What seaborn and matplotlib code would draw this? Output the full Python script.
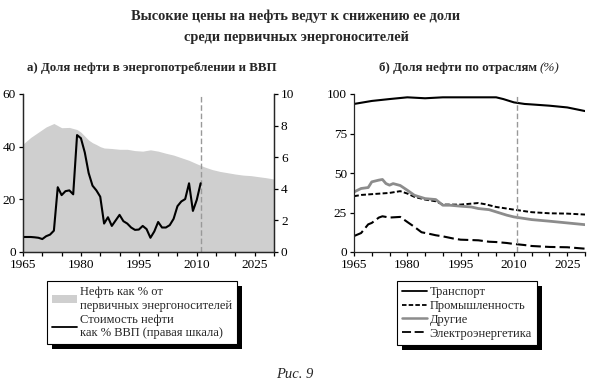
import numpy as np
import pandas as pd
import matplotlib
matplotlib.use("Agg")
import matplotlib.pyplot as plt
from matplotlib.patches import Patch, Rectangle
from matplotlib.lines import Line2D
from matplotlib.ticker import MultipleLocator
import seaborn as sns

# ---- data: panel a ----
share_years = [1965, 1967, 1969, 1971, 1973, 1974, 1975, 1977, 1979, 1980, 1981, 1982, 1983,
               1984, 1985, 1986, 1988, 1990, 1992, 1994, 1996, 1998, 2000, 2002, 2004, 2006,
               2008, 2010, 2012, 2014, 2016, 2018, 2020, 2022, 2024, 2026, 2028, 2030]
oil_share = [41.0, 43.5, 45.5, 47.5, 48.8, 48.0, 47.2, 47.3, 46.5, 45.5, 44.0, 42.5, 41.5,
             40.8, 40.0, 39.5, 39.3, 39.0, 39.0, 38.5, 38.3, 38.8, 38.3, 37.5, 36.8, 35.8,
             34.8, 33.5, 32.3, 31.3, 30.6, 30.1, 29.6, 29.2, 29.0, 28.6, 28.2, 27.7]

cost_years = list(range(1965, 2012))
oil_cost_gdp = [0.95, 0.95, 0.95, 0.93, 0.90, 0.82, 1.00, 1.10, 1.35, 4.10,
                3.60, 3.85, 3.90, 3.65, 7.40, 7.20, 6.30, 5.00, 4.20, 3.90,
                3.50, 1.80, 2.20, 1.65, 2.00, 2.35, 1.95, 1.80, 1.55, 1.40,
                1.42, 1.65, 1.45, 0.90, 1.30, 1.90, 1.55, 1.55, 1.70, 2.10,
                2.90, 3.20, 3.35, 4.35, 2.60, 3.30, 4.35]

# ---- data: panel b ----
trans_years = [1965, 1970, 1975, 1980, 1985, 1990, 1995, 2000, 2005, 2007, 2010, 2013, 2015, 2020, 2025, 2030]
transport = [93.7, 95.6, 96.8, 97.9, 97.3, 97.9, 97.9, 97.9, 97.9, 96.8, 94.7, 93.7, 93.4, 92.6, 91.5, 89.2]

ind_years = [1965, 1967, 1970, 1975, 1978, 1980, 1982, 1985, 1988, 1990, 1995, 2000, 2002,
             2005, 2008, 2010, 2015, 2020, 2025, 2030]
industry = [35.3, 36.1, 36.6, 37.4, 38.5, 37.0, 34.9, 33.2, 32.1, 30.0, 30.0, 31.0, 30.2,
            28.5, 27.5, 26.8, 25.2, 24.5, 24.3, 23.7]

oth_years = [1965, 1967, 1969, 1970, 1972, 1973, 1974, 1975, 1976, 1978, 1980, 1982, 1985,
             1988, 1990, 1992, 1995, 1998, 2000, 2003, 2005, 2008, 2010, 2015, 2020, 2025, 2030]
others = [38.0, 40.2, 40.8, 44.4, 45.5, 45.9, 43.3, 42.3, 43.3, 42.1, 39.1, 35.9, 33.8,
          33.2, 29.6, 29.6, 29.0, 28.5, 27.5, 26.8, 25.4, 23.3, 22.2, 20.5, 19.5, 18.4, 17.3]

el_years = [1965, 1967, 1969, 1970, 1972, 1973, 1975, 1978, 1980, 1982, 1984, 1986, 1988,
            1990, 1993, 1995, 2000, 2003, 2005, 2008, 2010, 2013, 2015, 2020, 2025, 2030]
power = [10.1, 12.0, 17.5, 18.4, 21.8, 22.6, 21.8, 22.2, 19.0, 15.9, 12.5, 11.6, 10.6,
         9.9, 8.5, 7.8, 7.4, 6.5, 6.3, 5.7, 5.1, 4.4, 3.8, 3.2, 3.0, 2.1]

xticks = [1965, 1980, 1995, 2010, 2025]
forecast_year = 2011

sns.set_theme(style="ticks")
plt.rcParams['font.family'] = ['Liberation Serif', 'DejaVu Serif']
plt.rcParams['axes.linewidth'] = 0.9

fig = plt.figure(figsize=(5.9, 3.87), dpi=100)
W, H = 590, 387

def axrect(x0, y0, x1, y1):
    return [x0 / W, 1 - y1 / H, (x1 - x0) / W, (y1 - y0) / H]

def style_ticks(a):
    a.tick_params(axis='both', which='major', labelsize=9.5, length=3, width=0.9,
                  colors='black', pad=2)
    a.tick_params(axis='both', which='minor', length=3, width=0.9, colors='black')

# ---- panel a ----
ax = fig.add_axes(axrect(23, 94, 274, 252))
ax.fill_between(share_years, oil_share, 0, color="#cfcfcf", lw=0)
ax.set_xlim(1965, 2030)
ax.set_ylim(0, 60)
ax.set_yticks([0, 20, 40, 60])
ax.set_xticks(xticks)
ax.xaxis.set_minor_locator(MultipleLocator(5))
ax.axvline(forecast_year, color="#999999", lw=1, ls=(0, (4, 2)))
ax2 = ax.twinx()
sns.lineplot(x=cost_years, y=oil_cost_gdp, ax=ax2, color="black", lw=1.5)
ax2.set_ylim(0, 10)
ax2.set_yticks([0, 2, 4, 6, 8, 10])
ax2.set_xlim(1965, 2030)
for a in (ax, ax2):
    a.spines['top'].set_visible(False)
    a.set_xlabel("")
    a.set_ylabel("")
    style_ticks(a)
ax.spines['right'].set_visible(True)

# ---- panel b ----
bx = fig.add_axes(axrect(354, 94, 585, 252))
sns.lineplot(x=trans_years, y=transport, ax=bx, color="black", lw=1.5)
sns.lineplot(x=ind_years, y=industry, ax=bx, color="black", lw=1.4)
bx.lines[-1].set_linestyle((0, (2.5, 1.2)))
sns.lineplot(x=oth_years, y=others, ax=bx, color="#8c8c8c", lw=2.0)
sns.lineplot(x=el_years, y=power, ax=bx, color="black", lw=1.5)
bx.lines[-1].set_linestyle((0, (5, 2)))
bx.axvline(forecast_year, color="#999999", lw=1, ls=(0, (4, 2)))
bx.set_xlim(1965, 2030)
bx.set_ylim(0, 100)
bx.set_yticks([0, 25, 50, 75, 100])
bx.set_xticks(xticks)
bx.xaxis.set_minor_locator(MultipleLocator(5))
sns.despine(ax=bx)
bx.set_xlabel("")
bx.set_ylabel("")
style_ticks(bx)

# ---- titles ----
fig.text(296 / W, 1 - 16 / H, "Высокие цены на нефть ведут к снижению ее доли",
         ha='center', va='center', fontsize=10.4, fontweight='bold')
fig.text(296 / W, 1 - 37 / H, "среди первичных энергоносителей",
         ha='center', va='center', fontsize=10.4, fontweight='bold')
fig.text(27 / W, 1 - 68 / H, "а) Доля нефти в энергопотреблении и ВВП",
         ha='left', va='center', fontsize=9.3, fontweight='bold')
fig.text(537 / W, 1 - 68 / H, "б) Доля нефти по отраслям",
         ha='right', va='center', fontsize=9.3, fontweight='bold')
fig.text(540 / W, 1 - 68 / H, "(%)", ha='left', va='center', fontsize=9.5, style='italic')
fig.text(295 / W, 1 - 374 / H, "Рис. 9", ha='center', va='center', fontsize=10.5, style='italic')

# ---- legends ----
leg_kw = dict(loc='upper left', fontsize=9, frameon=True, fancybox=False,
              edgecolor='black', handlelength=2.0, handletextpad=0.2, borderpad=0.4,
              labelspacing=0.15, borderaxespad=0)
h1 = [Patch(facecolor="#cfcfcf", edgecolor='none'), Line2D([], [], color='black', lw=1.3)]
l1 = ["Нефть как % от\nпервичных энергоносителей", "Стоимость нефти\nкак % ВВП (правая шкала)"]
lg1 = fig.legend(h1, l1, bbox_to_anchor=(47 / W, 1 - 281 / H), **leg_kw)

h2 = [Line2D([], [], color='black', lw=1.3),
      Line2D([], [], color='black', lw=1.3, ls=(0, (2.5, 1.2))),
      Line2D([], [], color='#8c8c8c', lw=1.8),
      Line2D([], [], color='black', lw=1.3, ls=(0, (5, 2)))]
l2 = ["Транспорт", "Промышленность", "Другие", "Электроэнергетика"]
lg2 = fig.legend(h2, l2, bbox_to_anchor=(397 / W, 1 - 281 / H), **leg_kw)

for lg in (lg1, lg2):
    lg.get_frame().set_linewidth(0.8)
    lg.get_frame().set_alpha(1)

# solid black drop shadows behind the legend boxes
fig.canvas.draw()
inv = fig.transFigure.inverted()
for lg in (lg1, lg2):
    bb = lg.get_window_extent().transformed(inv)
    dx, dy = 5 / W, 5 / H
    fig.patches.append(Rectangle((bb.x0 + dx, bb.y0 - dy), bb.width, bb.height,
                                 transform=fig.transFigure, facecolor='black',
                                 edgecolor='none', zorder=1, figure=fig))
    lg.set_zorder(5)

fig.savefig("out.png", dpi=100)
